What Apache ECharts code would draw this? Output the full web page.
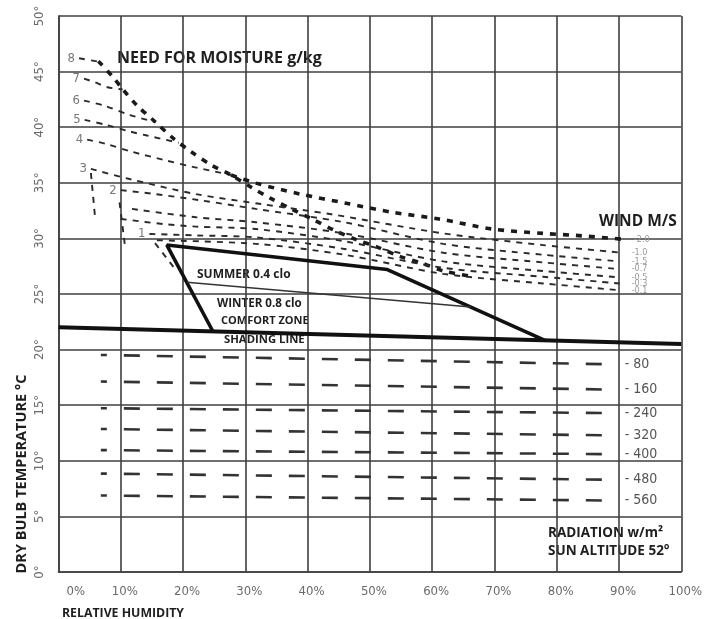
<!DOCTYPE html>
<html>
<head>
<meta charset="utf-8">
<script src="https://cdn.jsdelivr.net/npm/echarts@6/dist/echarts.min.js"></script>
<style>
  html, body { margin: 0; padding: 0; background: #ffffff; }
  #chart { width: 705px; height: 619px; }
</style>
</head>
<body>
<div id="chart"></div>
<script>
// Bioclimatic chart: relative humidity (%) on x, dry bulb temperature (°C) on y.

// Shading line and comfort zone outline
const shadingLine = [[0, 22.0], [100, 20.5]];
const comfortZone = [[24.8, 21.63], [17.4, 29.4], [52.8, 27.2], [78.1, 20.83]];
const clothingDivider = [[20.6, 26.06], [66.2, 23.84]];

// Need for moisture (g/kg), lines 8..4 run into the envelope
const moisture8 = [[3.3, 46.2], [6.4, 45.9]];
const moisture7 = [[4.1, 44.37], [5.9, 44.03], [7.9, 43.59], [10.3, 43.4]];
const moisture6 = [[4.1, 42.39], [7.2, 41.96], [11.5, 41.09], [15.6, 40.45]];
const moisture5 = [[4.2, 40.66], [7.5, 40.23], [11.5, 39.61], [14.2, 39.25], [19.3, 38.6]];
const moisture4 = [[4.6, 38.88], [7.5, 38.52], [11.8, 37.79], [16.9, 37.06], [21.6, 36.43], [27.7, 35.7]];
// lines 3, 2, 1 carry on to the right as wind lines
const moisture3 = [[5.2, 36.25], [11.4, 35.34], [22.1, 33.98], [32.8, 33.07], [43.8, 32.17], [61.8, 30.45], [77.8, 29.4], [90.1, 28.73]];
const moisture2 = [[10.0, 34.34], [15.3, 34.0], [22.6, 33.44], [31.7, 32.65], [45.9, 31.45], [61.8, 29.51], [77.8, 28.53], [90.1, 27.93]];
const moisture1 = [[14.6, 30.4], [22.1, 30.27], [31.7, 30.09], [45.9, 29.05], [61.8, 27.35], [77.8, 26.55], [90.1, 25.95]];
const moistureLabels = ['8', '7', '6', '5', '4', '3', '2', '1'];

// Short dashed drops at the dry end
const dryDrop1 = [[5.2, 35.88], [5.9, 31.72]];
const dryDrop2 = [[9.8, 33.25], [10.7, 29.22]];
const dryDrop3 = [[15.5, 29.57], [18.6, 27.33]];

// Heavy dashed envelope of moisture need
const moistureEnvelope = [[6.4, 45.94], [8.7, 44.54], [10.3, 43.42], [12.6, 41.96], [15.5, 40.49], [18.3, 39.06],
  [21.3, 37.79], [24.5, 36.61], [27.7, 35.7], [30.9, 34.61], [34.0, 33.62], [37.5, 32.62], [40.8, 31.72],
  [44.3, 30.72], [47.7, 29.91], [51.2, 29.22], [54.9, 28.36], [58.4, 27.76], [61.8, 27.07], [65.8, 26.64]];

// Wind lines (m/s)
const windTop = [[27.7, 35.7], [31.7, 34.97], [38.7, 34.0], [46.2, 33.16], [53.6, 32.35], [61.1, 31.75],
  [69.7, 30.84], [77.8, 30.45], [83.1, 30.27], [91.1, 29.9]];
const wind4 = [[11.8, 32.65], [22.1, 31.9], [31.7, 31.45], [45.9, 30.45], [61.8, 28.71], [77.8, 27.84], [90.1, 27.24]];
const wind5 = [[10.0, 31.75], [16.9, 31.29], [22.1, 31.06], [31.7, 30.84], [45.9, 29.74], [61.8, 27.93], [77.8, 27.07], [90.1, 26.49]];
const wind7 = [[15.8, 29.83], [31.7, 29.51], [45.9, 28.53], [61.8, 26.81], [77.8, 25.95], [90.1, 25.34]];
const windLabels = ['2.0', '1.0', '1.5', '0.7', '0.5', '0.3', '0.1'];

// Radiation (W/m²) needed, sun altitude 52°
const radiation80 = [[6.8, 19.52], [88.2, 18.68]];
const radiation160 = [[6.8, 17.13], [88.2, 16.41]];
const radiation240 = [[6.8, 14.73], [88.2, 14.29]];
const radiation320 = [[6.8, 12.86], [88.2, 12.29]];
const radiation400 = [[6.8, 10.96], [88.2, 10.6]];
const radiation480 = [[6.8, 8.85], [88.2, 8.3]];
const radiation560 = [[6.8, 6.88], [88.2, 6.43]];
const radiationLabels = ['80', '160', '240', '320', '400', '480', '560'];

const NARROW = '"Liberation Sans Narrow", "DejaVu Sans Condensed", "Noto Sans", sans-serif';
const BOLD = '"Open Sans", "Noto Sans", sans-serif';
const GRID_COLOR = '#3f3f3f';

const series = [];

function addLine(data, style, extra) {
  series.push(Object.assign({
    type: 'line', data: data, showSymbol: false, symbol: 'none', silent: true,
    lineStyle: style, z: 3
  }, extra || {}));
}

const thinDash = { color: '#2a2a2a', width: 1.9, type: [6, 6] };
const heavyDash = { color: '#1a1a1a', width: 3.6, type: [6, 7] };

// moisture lines
[moisture8, moisture7, moisture6, moisture5, moisture4].forEach(d => addLine(d, thinDash, { smooth: 0.3 }));
[dryDrop1, dryDrop2, dryDrop3].forEach(d => addLine(d, thinDash));
addLine(moistureEnvelope, heavyDash, { smooth: 0.3 });

// wind lines with end labels
const windSet = [windTop, moisture3, moisture2, wind4, wind5, moisture1, wind7];
windSet.forEach((d, i) => {
  addLine(d, i === 0 ? heavyDash : thinDash, {
    smooth: 0.3,
    endLabel: {
      show: true, formatter: '-' + windLabels[i], distance: i === 0 ? 8 : 12,
      fontSize: 9, color: '#9a9a9a', fontFamily: NARROW
    }
  });
});

// moisture labels at line starts
series.push({
  type: 'scatter', silent: true, symbolSize: 0, z: 4,
  data: [moisture8, moisture7, moisture6, moisture5, moisture4, moisture3, moisture2, moisture1].map(d => d[0]),
  label: {
    show: true, position: 'left', distance: 4,
    formatter: p => moistureLabels[p.dataIndex],
    fontSize: 13, color: '#555', fontFamily: NARROW
  }
});

// radiation lines
[radiation80, radiation160, radiation240, radiation320, radiation400, radiation480, radiation560].forEach((d, i) => {
  addLine(d, { color: '#333', width: 2.6, type: [16, 17], dashOffset: 10 }, {
    endLabel: {
      show: true, formatter: '- ' + radiationLabels[i], distance: 17,
      fontSize: 14, color: '#555', fontFamily: NARROW
    }
  });
});

// shading line and comfort zone
addLine(shadingLine, { color: '#111', width: 4 }, { z: 5 });
addLine(comfortZone, { color: '#111', width: 3.6 }, { z: 5 });
addLine(clothingDivider, { color: '#333', width: 1.5 }, { z: 5 });

function txt(text, x, y, size, opts) {
  return Object.assign({
    type: 'text', x: x, y: y, silent: true,
    style: Object.assign({
      text: text, font: 'bold ' + size + 'px ' + BOLD, fill: '#1e1e1e',
      textAlign: 'left', textVerticalAlign: 'middle'
    }, (opts && opts.style) || {})
  }, (opts && opts.el) || {});
}

const chart = echarts.init(document.getElementById('chart'), null, { renderer: 'canvas' });
chart.setOption({
  animation: false,
  backgroundColor: '#ffffff',
  grid: { left: 58.5, right: 19.5, top: 16, bottom: 47 },
  xAxis: {
    type: 'value', min: 0, max: 100, interval: 10,
    axisLine: { show: true, lineStyle: { color: GRID_COLOR, width: 1.6 } },
    axisTick: { show: false },
    splitLine: { show: true, lineStyle: { color: GRID_COLOR, width: 1.6 } },
    axisLabel: {
      formatter: '{value}%', fontSize: 13, color: '#6a6a6a', fontFamily: NARROW,
      margin: 13, padding: [0, 0, 0, 8], alignMinLabel: 'left'
    }
  },
  yAxis: {
    type: 'value', min: 0, max: 50, interval: 5,
    axisLine: { show: true, lineStyle: { color: GRID_COLOR, width: 1.6 } },
    axisTick: { show: false },
    splitLine: { show: true, lineStyle: { color: GRID_COLOR, width: 1.6 } },
    axisLabel: {
      formatter: '{value}°', rotate: 90, fontSize: 13, color: '#6a6a6a', fontFamily: NARROW, margin: 12
    }
  },
  series: series,
  graphic: [
    txt('NEED FOR MOISTURE g/kg', 117, 58, 16),
    txt('WIND M/S', 599, 222, 15.5),
    txt('SUMMER 0.4 clo', 197, 275, 12),
    txt('WINTER 0.8 clo', 217, 304, 11.6),
    txt('COMFORT ZONE', 221, 321, 11),
    txt('SHADING LINE', 224, 340, 11.3),
    txt('RADIATION w/m²', 548, 533, 13.5),
    txt('SUN ALTITUDE 52°', 548, 551, 13.5),
    txt('RELATIVE HUMIDITY', 62, 613, 12.3),
    txt('DRY BULB TEMPERATURE °C', 22, 474, 14.5, {
      style: { textAlign: 'center' }, el: { rotation: Math.PI / 2 }
    })
  ]
});
</script>
</body>
</html>
